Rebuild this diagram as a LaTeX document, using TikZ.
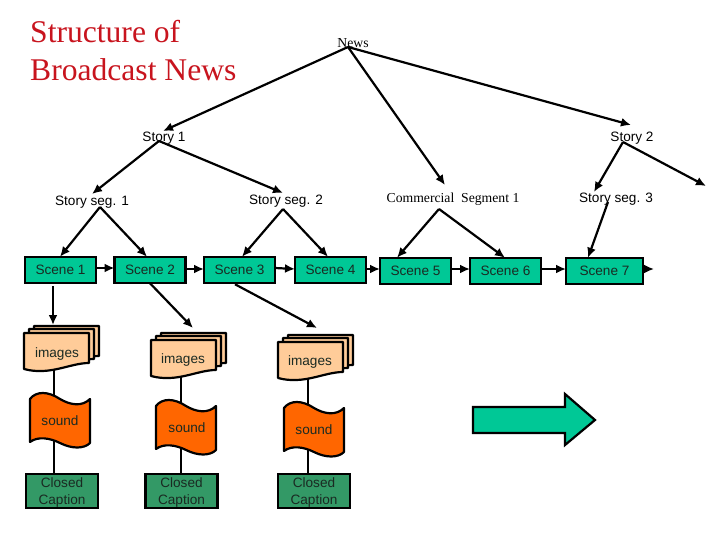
\documentclass[tikz,border=0pt]{standalone}
\usepackage{fontspec}
\setmainfont{Liberation Sans}
\newfontfamily\serifface{Liberation Serif}
\usetikzlibrary{arrows.meta,backgrounds}
\definecolor{scenegreen}{HTML}{00C896}
\definecolor{imgfill}{HTML}{FFCC99}
\definecolor{soundfill}{HTML}{FF6600}
\definecolor{capfill}{HTML}{339966}
\definecolor{titlered}{HTML}{C8141E}
\definecolor{inktext}{HTML}{1A2A22}
\newcommand{\capstrut}{\rule{0pt}{12.8pt}}
\tikzset{
  x=1pt,y=-1pt,
  arr/.style={line width=2.2pt,-{Latex[length=10pt,width=9pt]}},
  plainline/.style={line width=2.2pt},
  box/.style={draw=black,line width=2.2pt,outer sep=0pt,inner sep=0pt},
  scenebox/.style={box,fill=scenegreen,minimum width=71pt,minimum height=26.5pt,text=inktext,text height=12.5pt,text depth=3pt,font=\fontsize{13.6}{16}\selectfont},
  capbox/.style={box,fill=capfill,minimum width=72pt,minimum height=34pt,align=center,text=inktext,font=\fontsize{13.6}{17}\selectfont},
  sanslabel/.style={inner sep=0pt,outer sep=0pt,text height=14pt,text depth=3pt,font=\fontsize{13.6}{16}\selectfont},
  seriflabel/.style={inner sep=0pt,outer sep=0pt,text height=14pt,text depth=3pt,font=\serifface\fontsize{13.7}{16}\selectfont},
  shapelabel/.style={inner sep=0pt,outer sep=0pt,text=inktext,text height=14pt,text depth=3pt,font=\fontsize{13.6}{16}\selectfont},
  shapeline/.style={draw=black,line width=2.2pt,line join=round},
}
\newcommand{\docshape}[2]{%
  \path[shapeline,fill=imgfill,shift={(#1,#2)}] (24,333) -- (89,333) -- (89,363)
    .. controls (70,363) and (50,376) .. (24,369) -- cycle;}
\newcommand{\soundshape}[2]{%
  \path[shapeline,fill=soundfill,shift={(#1,#2)}] (30,399)
    .. controls (36,391) and (48,391) .. (60,399)
    .. controls (70,405) and (82,407) .. (90,399) -- (90,443)
    .. controls (84,449) and (72,449) .. (60,443)
    .. controls (50,438) and (38,436) .. (30,442) -- cycle;}
\newcommand{\stackshape}[2]{%
  \begin{scope}[shift={(#1,#2)}]
    \docshape{10}{-7}\docshape{5}{-4}\docshape{0}{0}
  \end{scope}}
\begin{document}
\begin{tikzpicture}
\useasboundingbox (0,0) rectangle (720,540);

% title
\node[inner sep=0pt,anchor=north west,align=left,text=titlered,
  font=\serifface\fontsize{31.6}{38.5}\selectfont] (title) at (30,20) {Structure of\\Broadcast News};

% tree labels
\node[seriflabel] (news) at (353,42) {News};
\node[sanslabel] (story1) at (164,136) {Story 1};
\node[sanslabel] (story2) at (632,136) {Story 2};
\node[sanslabel] (seg1) at (92,200) {Story seg. 1};
\node[sanslabel] (seg2) at (286,199) {Story seg. 2};
\node[seriflabel] (comm) at (453,197) {Commercial\ \ Segment 1};
\node[sanslabel] (seg3) at (616,197) {Story seg. 3};
\coordinate (storyfree) at (706,186);
\coordinate (scenefree) at (654,269);

% scenes
\node[scenebox] (s1) at (60.5,270) {Scene 1};
\node[scenebox] (s2) at (150,270) {Scene 2};
\node[scenebox] (s3) at (239.5,270) {Scene 3};
\node[scenebox] (s4) at (330.5,270) {Scene 4};
\node[scenebox] (s5) at (415.5,271) {Scene 5};
\node[scenebox] (s6) at (505.5,271) {Scene 6};
\node[scenebox,minimum width=77pt] (s7) at (604.5,271) {Scene 7};

% media stacks
\stackshape{0}{0}
\stackshape{127}{7}
\stackshape{254}{9}
\soundshape{0}{0}
\soundshape{126}{7}
\soundshape{254}{9}
\node[shapelabel] (i1) at (57,352) {images};
\node[shapelabel] (i2) at (183,358) {images};
\node[shapelabel] (i3) at (310,360) {images};
\node[shapelabel] (a1) at (60,420) {sound};
\node[shapelabel] (a2) at (187,427) {sound};
\node[shapelabel] (a3) at (314,429) {sound};
\node[capbox] (c1) at (62,491) {\capstrut Closed\\Caption};
\node[capbox] (c2) at (181.5,491) {\capstrut Closed\\Caption};
\node[capbox] (c3) at (314,491) {\capstrut Closed\\Caption};

% block arrow
\path[shapeline,fill=scenegreen,line join=miter] (473,407) -- (565,407) -- (565,394) -- (595,420)
  -- (565,445) -- (565,433) -- (473,433) -- cycle;

% connectors
\draw[arr] ([shift={(-5,5)}]news.center) -- ([shift={(-1,-5)}]story1.center);
\draw[arr] ([shift={(-5,5)}]news.center) -- ([shift={(-8,-12)}]comm.center);
\draw[arr] ([shift={(-5,5)}]news.center) -- ([shift={(-1,-11)}]story2.center);
\draw[arr] ([shift={(-5,5)}]story1.center) -- ([shift={(0,-6)}]seg1.center);
\draw[arr] ([shift={(-5,5)}]story1.center) -- ([shift={(-3,-6)}]seg2.center);
\draw[arr] ([shift={(-9,6)}]story2.center) -- ([shift={(-22,-5)}]seg3.center);
\draw[arr] ([shift={(-9,6)}]story2.center) -- (storyfree);
\draw[arr] ([shift={(8,7)}]seg1.center) -- ([shift={(-0.5,0)}]s1.north);
\draw[arr] ([shift={(8,7)}]seg1.center) -- ([shift={(-3,0)}]s2.north);
\draw[arr] ([shift={(-3,10)}]seg2.center) -- ([shift={(2.5,0)}]s3.north);
\draw[arr] ([shift={(-3,10)}]seg2.center) -- ([shift={(-2.5,0)}]s4.north);
\draw[arr] ([shift={(-14,12)}]comm.center) -- ([shift={(-18.5,0)}]s5.north);
\draw[arr] ([shift={(-14,12)}]comm.center) -- ([shift={(-0.5,0)}]s6.north);
\draw[arr] ([shift={(-8,5)}]seg3.center) -- ([shift={(-16.5,0)}]s7.north);
\draw[arr] ([shift={(0,-2)}]s1.east) -- ([shift={(0,-2)}]s2.west);
\draw[arr] ([shift={(0,-1)}]s2.east) -- ([shift={(0,-1)}]s3.west);
\draw[arr] ([shift={(0,-2)}]s3.east) -- ([shift={(0,-1)}]s4.west);
\draw[arr] ([shift={(0,-1)}]s4.east) -- ([shift={(0,-2)}]s5.west);
\draw[arr] ([shift={(0,-2)}]s5.east) -- ([shift={(0,-2)}]s6.west);
\draw[arr] ([shift={(0,-2)}]s6.east) -- ([shift={(0,-2)}]s7.west);
\draw[arr] ([shift={(0,-2)}]s7.east) -- (scenefree);
\draw[arr] ([shift={(-7.5,3)}]s1.south) -- ([shift={(-4,-27)}]i1.center);
\draw[arr] ([shift={(0,0)}]s2.south) -- ([shift={(10,-30)}]i2.center);
\draw[arr] ([shift={(-4.5,1)}]s3.south) -- ([shift={(7,-32)}]i3.center);

\begin{pgfonlayer}{background}
  \draw[plainline] ([shift={(-3,0)}]i1.center) -- ([shift={(-6,0)}]a1.center);
  \draw[plainline] ([shift={(-6,0)}]a1.center) -- ([shift={(-8,0)}]c1.center);
  \draw[plainline] ([shift={(-2,0)}]i2.center) -- ([shift={(-6,0)}]a2.center);
  \draw[plainline] ([shift={(-6,0)}]a2.center) -- ([shift={(-0.5,0)}]c2.center);
  \draw[plainline] ([shift={(-2,0)}]i3.center) -- ([shift={(-6,0)}]a3.center);
  \draw[plainline] ([shift={(-6,0)}]a3.center) -- ([shift={(-6,0)}]c3.center);
\end{pgfonlayer}
\end{tikzpicture}
\end{document}
